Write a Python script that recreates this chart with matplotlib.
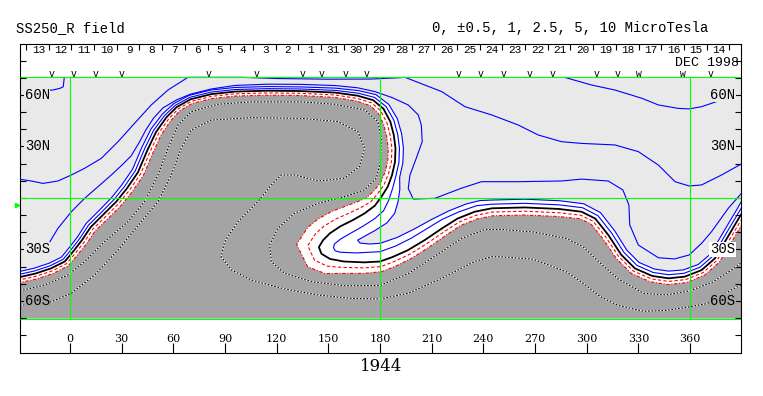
import numpy as np
import matplotlib.pyplot as plt

# ---- data (lon / lat in degrees) ----
# neutral line (0 contour), traced from the left edge to the right edge
nl_lon = [-31, -20, -11, -3, 2, 7, 12, 20, 27, 33, 39.5, 45, 50, 56, 62, 70, 82, 96, 115, 134,
          154, 167, 176, 182, 186, 188, 189, 188.7, 187, 184.5, 181, 177, 171, 164, 157, 151, 147,
          144.5, 146, 151, 159, 171, 180, 187, 196, 206, 216, 225, 235, 245, 264, 284, 297, 305,
          312.6, 320, 328, 338, 347.5, 357, 366.7, 374.4, 380.3, 386, 390, 394]
nl_lat = [-46.5, -44, -41, -37, -31, -24.5, -17, -9, -2, 5.5, 15, 28, 38.5, 47, 53, 57.5, 60.5,
          62, 62.5, 62.3, 61.4, 59.6, 57, 52, 44.5, 36.7, 29, 21, 13.4, 6.6, 1, -4.5, -9, -13,
          -16.5, -20.5, -24.5, -28.6, -32.5, -35.5, -37, -37.5, -37, -34.5, -30.5, -24.5, -17.7,
          -12, -8, -6, -5.5, -6.4, -8, -12, -21.6, -33, -41, -45.4, -46.8, -45.8, -42, -35.2,
          -25.4, -15.7, -9, -2]
# spacing (deg) between the 0, 0.5 and 1 contours on the positive / negative side
gap_pos = [1.6, 1.6, 1.6, 1.6, 1.6, 1.6, 1.7, 1.7, 1.8, 1.8, 1.8, 1.8, 1.7, 1.5, 1.3, 1.2, 1.2,
           1.2, 1.2, 1.2, 1.3, 1.5, 1.8, 2.0, 2.2, 2.3, 2.3, 2.3, 2.3,
           np.nan, np.nan, np.nan, np.nan, np.nan, np.nan, np.nan, np.nan, np.nan, np.nan,
           np.nan, np.nan, np.nan, np.nan, np.nan, np.nan, np.nan, np.nan, np.nan, np.nan,
           2.4, 2.4, 2.4, 2.4, 2.3, 2.2, 2.1, 2.1, 2.1, 2.1, 2.0, 1.9, 1.8, 1.8, 1.8, 1.8, 1.8]
gap_neg = [1.6, 1.6, 1.6, 1.6, 1.6, 1.7, 1.7, 1.8, 1.8, 1.8, 1.8, 1.8, 1.7, 1.6, 1.4, 1.3, 1.3,
           1.3, 1.3, 1.3, 1.4, 1.6, 1.8, 2.0, 2.1, 2.1, 2.1, 2.1, 2.2, 2.4, 2.8, 3.3, 4.0, 4.6,
           5.0, 5.4, 5.8, 6.5, 5.5, 4.5, 3.5, 3.2, 3.0, 2.8, 2.6, 2.4, 2.3, 2.2, 2.2, 2.2, 2.2,
           2.2, 2.1, 2.0, 1.9, 1.8, 1.8, 1.8, 1.8, 1.8, 1.7, 1.7, 1.7, 1.7, 1.7, 1.7]
# inside the southern tongue the +0.5 / +1 lines are traced on their own
tongue05_lon = [187.3, 185, 182, 177, 170, 163, 157, 153.5, 153, 154, 157, 166, 180, 189, 198,
                207, 216, 226, 236]
tongue05_lat = [5.5, -1.5, -7.5, -12, -16.5, -20.5, -24, -26.8, -29, -30.8, -31.6, -32, -31.3,
                -28, -23.5, -18, -12.5, -8, -4.5]
tongue10_lon = [191.5, 190.5, 188.5, 184, 177, 171, 167, 168.5, 174, 180, 190, 200, 210, 220,
                230, 238]
tongue10_lat = [5, -2, -9, -14.5, -19, -22.3, -24.6, -26.3, -26.8, -26.4, -23, -18, -12.5, -7.5,
                -3.5, -1.5]

# +2.5, +5, +10 contours
p25_lon = [-17, -12.8, -7, 0.8, 8.5, 16.3, 24, 30, 35.5, 40, 44, 48.5, 54, 62, 70, 82, 96, 115,
           134, 154, 167, 177, 187, 196.4, 202.2, 204, 204.5, 201, 197.4, 196.4, 199.3, 211.9,
           227, 238.9, 260, 285.4, 297, 312.5, 321, 324.5, 325, 330, 341.6, 351, 359.5, 366.7,
           372.5, 382.2, 391]
p25_lat = [-31, -27.4, -17.7, -8, -0.2, 6.6, 13.4, 19, 24.5, 32, 39.5, 46.5, 52.5, 57.2, 60.5,
           63.5, 65.6, 66.3, 66.2, 65.5, 64.2, 62, 58.5, 54.2, 48.4, 42.5, 32.8, 23, 13.4, 5.6,
           -0.6, -0.2, 5.6, 9.5, 9.5, 9.9, 11, 9.9, 4.7, -4, -15.7, -27.4, -34.8, -35.5, -33.2,
           -26.4, -19.6, -6, 4]
p5_lon = [-31, -22.4, -15.7, -7, 0.8, 8.5, 18.2, 27.9, 37.5, 47.2, 56.9, 68.5, 100, 120, 150,
          175, 190, 194.5, 215.8, 229.3, 244.8, 260.3, 271.9, 285.4, 297, 316.4, 330, 341.6,
          351.3, 359.5, 366.7, 378.3, 391]
p5_lat = [11.2, 9.9, 8.5, 9.9, 13.4, 17.3, 23.1, 32.8, 43.5, 54.2, 62.9, 70.3, 70.3, 69.6, 69.2,
          69.3, 70, 70.3, 62, 53.2, 48.4, 42.5, 36.7, 32.8, 31.8, 30.9, 27, 19.2, 9.5, 7, 7.6,
          13.4, 20.5]
p10a_lon = [287.1, 302.9, 316.4, 332, 341.6, 353.2, 359.5, 366.7, 375]
p10a_lat = [70.3, 65.8, 62.9, 58.1, 54.2, 52.2, 51.9, 53.2, 56]
p10b_lon = [-3.3, -3.9, -5.8, -10, -16]
p10b_lat = [70.3, 64.8, 63.9, 62.9, 62.5]

# -2.5 and -5 contours
m25_lon = [-31, -14.7, -1.2, 8.5, 20.1, 33.7, 43.3, 51.1, 56.9, 62.7, 70.4, 85.9, 105.3, 134.3,
           153.6, 171, 178.8, 180.7, 180.3, 177.8, 171, 159.4, 144, 130.4, 120.7, 115.9, 116.9,
           124.6, 140.1, 159.4, 180, 196.4, 215.8, 227.4, 241, 250, 269, 288, 298, 308, 318, 333,
           346, 360, 373, 384, 391]
m25_lat = [-54.5, -50.7, -44.9, -37.1, -25.4, -13.8, -2.1, 13.4, 28.9, 42.5, 50.3, 54.6, 56, 56,
           54.6, 51.3, 44.5, 34.8, 21.2, 11.5, 4.7, 0.8, -3.1, -8.9, -17.7, -27.4, -37.1, -43.9,
           -48.7, -51.1, -51, -44, -31.3, -23.5, -18.3, -18.3, -19.8, -23.5, -28.5, -38, -47,
           -55.5, -56.5, -54, -49, -42, -37]
m5_lon = [-31, -10.8, 0.8, 14.3, 27.9, 41.4, 51.1, 58.8, 64.6, 70.4, 82, 105.3, 134.3, 155.6,
          167.2, 171, 168.1, 159.4, 144, 130.4, 122.7, 116.9, 109.1, 97.5, 89.8, 87.8, 93.7,
          105.3, 124.6, 144, 163.3, 180, 196.4, 215.8, 235, 245, 250, 269, 288, 298, 308, 318,
          333, 346, 360, 370, 384, 391]
m5_lat = [-62.8, -60.4, -55.5, -44.9, -30.3, -13.8, -2.1, 13.4, 28.9, 39.6, 45.4, 46.8, 46.4,
          44.5, 38.6, 28.9, 18.3, 11.5, 9.9, 13.4, 13.4, 7.6, -2.1, -13.8, -25.4, -34.2, -41.9,
          -47.8, -53, -56.5, -58.5, -58.8, -55.5, -46.8, -37, -34.2, -34.2, -35.7, -42.9, -49.7,
          -57.5, -62.5, -66, -65.5, -63.3, -61.5, -53.5, -50]

# top strip: days of Dec 1998 / Jan 1999 and observation marks
days = [13, 12, 11, 10, 9, 8, 7, 6, 5, 4, 3, 2, 1, 31, 30, 29, 28, 27, 26, 25, 24, 23, 22, 21,
        20, 19, 18, 17, 16, 15, 14]
mark_lon = [-10.5, 2.3, 15.1, 30.2, 80.7, 108.5, 135.3, 146.3, 160.3, 172.5, 225.9, 238.7,
            251.5, 267.1, 280.5, 305.5, 318.2, 330.4, 356.0, 371.7]
mark_sym = ['v'] * 17 + ['w', 'w', 'v']
lon_ticks = list(range(0, 361, 30))
lat_ticks = [60, 30, -30, -60]
lat_names = ['60N', '30N', '30S', '60S']

# ---- styling ----
BLUE, RED, GREEN = '#0000ff', '#ff0000', '#00ff00'
LIGHT, DARK = '#e9e9e9', '#a4a4a4'
MONO, SERIF = 'Liberation Mono', 'DejaVu Serif'
LON0, LON1 = -29.3, 389.3
MAP = 70.3
DAY0, DAYW = -25.5, 13.17


def offset(lon, lat, dist):
    # shift a traced line sideways; positive = left of the direction of travel
    p = np.column_stack([lon, lat]).astype(float)
    t = np.gradient(p, axis=0)
    t /= np.hypot(t[:, 0], t[:, 1])[:, None]
    return p + np.column_stack([-t[:, 1], t[:, 0]]) * np.asarray(dist, float)[:, None]


gp, gn = np.array(gap_pos), np.array(gap_neg)
T0, T1 = 29, 49


def blue_line(k, t_lon, t_lat):
    o = offset(nl_lon, nl_lat, k * gp)
    return np.vstack([o[:T0], np.column_stack([t_lon, t_lat]), o[T1:]])


b05 = blue_line(1, tongue05_lon, tongue05_lat)
b10 = blue_line(2, tongue10_lon, tongue10_lat)
r05 = offset(nl_lon, nl_lat, -gn)
r10 = offset(nl_lon, nl_lat, -2 * gn)

fig = plt.figure(figsize=(7.63, 3.96), dpi=100)
ax = fig.add_axes([19.5 / 763, 43 / 396, 721 / 763, 309.5 / 396])
ax.set_xlim(LON0, LON1)
ax.set_ylim(-90.3, 90.0)

# shaded areas: > +1 light, < -1 dark
light = np.vstack([b10, [[400, MAP], [-40, MAP]]])
dark = np.vstack([r10, [[400, -MAP], [-40, -MAP]]])
ax.fill(light[:, 0], light[:, 1], color=LIGHT, lw=0, zorder=1)
ax.fill(dark[:, 0], dark[:, 1], color=DARK, lw=0, zorder=1)

for lo, la in [(m25_lon, m25_lat), (m5_lon, m5_lat)]:
    ax.plot(lo, la, color='white', lw=0.8, zorder=2)
    ax.plot(lo, la, color='black', lw=0.8, ls=(0, (1.5, 1.5)), zorder=2)

for lo, la in [(p25_lon, p25_lat), (p5_lon, p5_lat), (p10a_lon, p10a_lat),
               (p10b_lon, p10b_lat), (b05[:, 0], b05[:, 1]), (b10[:, 0], b10[:, 1])]:
    ax.plot(lo, la, color=BLUE, lw=0.8, zorder=3)
ax.plot(r05[:, 0], r05[:, 1], color=RED, lw=0.8, ls=(0, (3, 2)), zorder=3)
ax.plot(r10[:, 0], r10[:, 1], color=RED, lw=0.8, ls=(0, (3, 1.5, 1, 1.5)), zorder=3)
ax.plot(nl_lon, nl_lat, color='black', lw=1.3, zorder=4)

# green grid
ax.vlines([0, 180, 360], -MAP, MAP, color=GREEN, lw=0.8, zorder=5)
ax.hlines([0, MAP, -MAP], LON0, LON1, color=GREEN, lw=0.8, zorder=5)
ax.plot([-31], [-4], marker='>', ms=3, color=GREEN, clip_on=False)

# axes frame and ticks
ax.set_xticks(lon_ticks)
ax.set_yticks(range(-80, 81, 10))
ax.tick_params(axis='x', direction='in', length=7.2, width=0.8, top=False,
               labelbottom=False)
ax.tick_params(axis='y', direction='in', length=4, width=0.8, left=True, right=True,
               labelleft=False)
for s in ax.spines.values():
    s.set_linewidth(0.8)

for lon in lon_ticks:
    ax.text(lon, -84.1, str(lon), ha='center', va='baseline', family=SERIF, fontsize=8)

left_bg = [LIGHT, LIGHT, LIGHT, DARK]
right_bg = [LIGHT, LIGHT, 'white', DARK]
for lat, name, lb, rb in zip(lat_ticks, lat_names, left_bg, right_bg):
    ax.text(-26.3, lat - 2.1, name, ha='left', va='baseline', family=MONO, fontsize=10,
            zorder=6, bbox=dict(facecolor=lb, edgecolor='none', pad=0.4))
    ax.text(386.1, lat - 2.1, name, ha='right', va='baseline', family=MONO, fontsize=10,
            zorder=6, bbox=dict(facecolor=rb, edgecolor='none', pad=0.4))

# top strip
day_edges = DAY0 + DAYW * np.arange(len(days) + 1)
ax.vlines(day_edges, 86.3, 90, color='black', lw=0.8)
for i, d in enumerate(days):
    ax.text(day_edges[i] + DAYW / 2 + 0.6, 84.6, str(d), ha='center', va='baseline',
            family=MONO, fontsize=8)
ax.text(388.7, 76.7, 'DEC 1998', ha='right', va='baseline', family=MONO, fontsize=9.5)
for lon, sym in zip(mark_lon, mark_sym):
    ax.text(lon, 70.5, sym, ha='center', va='baseline', family=MONO, fontsize=7)

fig.text(16 / 763, 1 - 31.7 / 396, 'SS250_R field', ha='left', va='baseline',
         family=MONO, fontsize=10)
fig.text(432 / 763, 1 - 31.7 / 396, '0, \u00b10.5, 1, 2.5, 5, 10 MicroTesla', ha='left',
         va='baseline', family=MONO, fontsize=10)
fig.text(381 / 763, 1 - 371 / 396, '1944', ha='center', va='baseline', family=SERIF,
         fontsize=12)

fig.savefig('out.png', dpi=100)
